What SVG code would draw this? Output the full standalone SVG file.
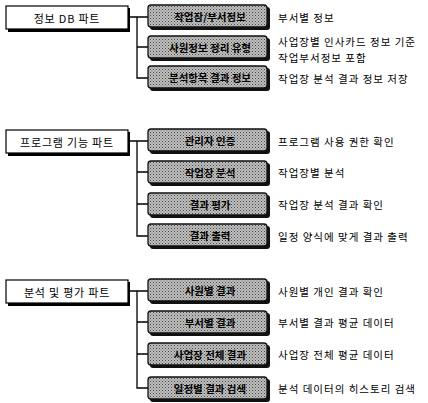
<svg xmlns="http://www.w3.org/2000/svg" width="428" height="403" viewBox="0 0 428 403">
<defs>
<pattern id="dots" width="3" height="3" patternUnits="userSpaceOnUse">
<rect width="3" height="3" fill="#c0c0c0"/>
<rect x="0" y="0" width="1" height="1" fill="#444"/>
<rect x="1.5" y="1.5" width="1" height="1" fill="#666"/>
</pattern>
</defs>
<style>
text{font-family:"Noto Sans CJK KR","Noto Sans",sans-serif;fill:#000;dominant-baseline:central}
.part rect.sh{fill:#000}
.part rect.bx{fill:#fff;stroke:#000;stroke-width:1.2}
.part text{font-size:11px;text-anchor:middle;letter-spacing:0.8px}
.item rect.sh{fill:#111}
.item rect.bx{fill:url(#dots);stroke:#111;stroke-width:1.3}
.item text{font-size:10.5px;font-weight:bold;text-anchor:middle}
.desc{font-size:10.5px;letter-spacing:1px}
#connectors path{fill:none;stroke:#000;stroke-width:1.3}
</style>

<g id="connectors">
<path d="M128 17H148M137 17V78H148M137 47H148"/>
<path d="M128 141H148M137 141V236H148M137 172H148M137 204H148"/>
<path d="M128 291H148M137 291V388H148M137 322H148M137 354H148"/>
</g>

<!-- Section 1 -->
<g id="part1" class="part"><rect class="sh" x="8" y="8" width="122" height="24"/><rect class="bx" x="6" y="6" width="122" height="23"/><text x="67" y="17.5">정보 DB 파트</text></g>
<g id="item1a" class="item"><rect class="sh" x="150" y="7" width="120" height="23" rx="3"/><rect class="bx" x="148" y="5" width="119" height="22" rx="3"/><text x="210" y="16">작업장/부서정보</text></g>
<g id="item1b" class="item"><rect class="sh" x="150" y="38" width="120" height="23" rx="3"/><rect class="bx" x="148" y="36" width="119" height="22" rx="3"/><text x="210" y="47">사원정보 정리 유형</text></g>
<g id="item1c" class="item"><rect class="sh" x="150" y="68" width="120" height="23" rx="3"/><rect class="bx" x="148" y="66" width="119" height="22" rx="3"/><text x="210" y="77">분석항목 결과 정보</text></g>
<text class="desc" x="278" y="17">부서별 정보</text>
<text class="desc" x="278" y="41">사업장별 인사카드 정보 기준</text>
<text class="desc" x="278" y="57">작업부서정보 포함</text>
<text class="desc" x="278" y="78">작업장 분석 결과 정보 저장</text>

<!-- Section 2 -->
<g id="part2" class="part"><rect class="sh" x="8" y="132" width="122" height="24"/><rect class="bx" x="6" y="130" width="122" height="23"/><text x="67" y="141.5">프로그램 기능 파트</text></g>
<g id="item2a" class="item"><rect class="sh" x="150" y="131" width="120" height="23" rx="3"/><rect class="bx" x="148" y="129" width="119" height="22" rx="3"/><text x="210" y="140">관리자 인증</text></g>
<g id="item2b" class="item"><rect class="sh" x="150" y="163" width="120" height="23" rx="3"/><rect class="bx" x="148" y="161" width="119" height="22" rx="3"/><text x="210" y="172">작업장 분석</text></g>
<g id="item2c" class="item"><rect class="sh" x="150" y="195" width="120" height="23" rx="3"/><rect class="bx" x="148" y="193" width="119" height="22" rx="3"/><text x="210" y="204">결과 평가</text></g>
<g id="item2d" class="item"><rect class="sh" x="150" y="226" width="120" height="23" rx="3"/><rect class="bx" x="148" y="224" width="119" height="22" rx="3"/><text x="210" y="235">결과 출력</text></g>
<text class="desc" x="278" y="141">프로그램 사용 권한 확인</text>
<text class="desc" x="278" y="172">작업장별 분석</text>
<text class="desc" x="278" y="204">작업장 분석 결과 확인</text>
<text class="desc" x="278" y="236">일정 양식에 맞게 결과 출력</text>

<!-- Section 3 -->
<g id="part3" class="part"><rect class="sh" x="8" y="282" width="122" height="24"/><rect class="bx" x="6" y="280" width="122" height="23"/><text x="67" y="291.5">분석 및 평가 파트</text></g>
<g id="item3a" class="item"><rect class="sh" x="150" y="281" width="120" height="23" rx="3"/><rect class="bx" x="148" y="279" width="119" height="22" rx="3"/><text x="210" y="290">사원별 결과</text></g>
<g id="item3b" class="item"><rect class="sh" x="150" y="313" width="120" height="23" rx="3"/><rect class="bx" x="148" y="311" width="119" height="22" rx="3"/><text x="210" y="322">부서별 결과</text></g>
<g id="item3c" class="item"><rect class="sh" x="150" y="345" width="120" height="23" rx="3"/><rect class="bx" x="148" y="343" width="119" height="22" rx="3"/><text x="210" y="354">사업장 전체 결과</text></g>
<g id="item3d" class="item"><rect class="sh" x="150" y="379" width="120" height="23" rx="3"/><rect class="bx" x="148" y="377" width="119" height="22" rx="3"/><text x="210" y="388">일정별 결과 검색</text></g>
<text class="desc" x="278" y="291">사원별 개인 결과 확인</text>
<text class="desc" x="278" y="322">부서별 결과 평균 데이터</text>
<text class="desc" x="278" y="354">사업장 전체 평균 데이터</text>
<text class="desc" x="278" y="388">분석 데이터의 히스토리 검색</text>
</svg>
